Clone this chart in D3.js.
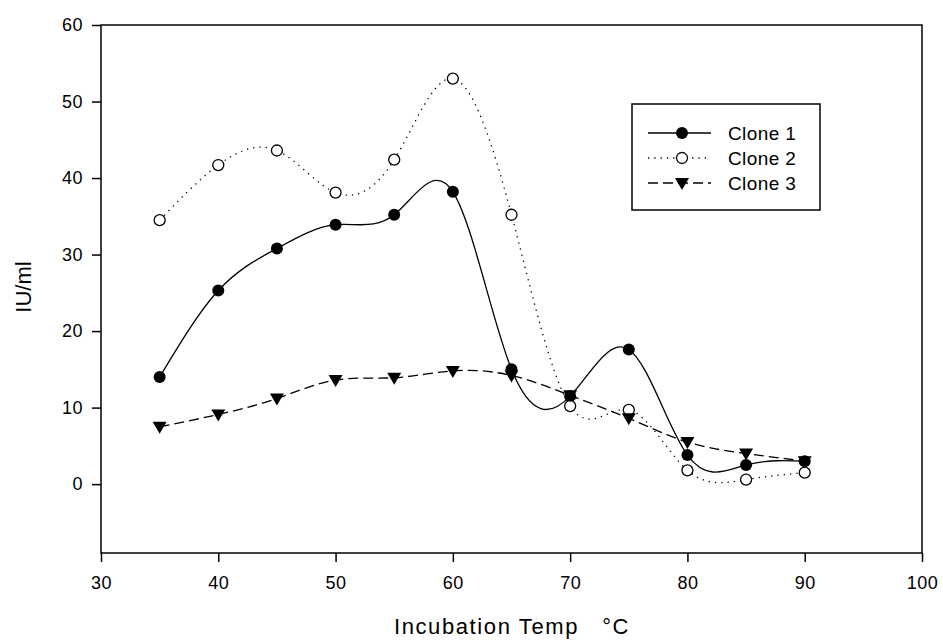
<!DOCTYPE html>
<html>
<head>
<meta charset="utf-8">
<script src="https://cdn.jsdelivr.net/npm/d3@7"></script>
<style>
  body { margin: 0; background: #fff; }
  text { font-family: Arial, "Liberation Sans", sans-serif; fill: #000; }
</style>
</head>
<body>
<svg class="chart" width="943" height="640"></svg>
<script>
// data
const temps = [35, 40, 45, 50, 55, 60, 65, 70, 75, 80, 85, 90];
const clone1 = [14.0, 25.3, 30.8, 33.9, 35.2, 38.2, 15.0, 11.5, 17.6, 3.8, 2.5, 3.0];
const clone2 = [34.5, 41.7, 43.6, 38.1, 42.4, 53.0, 35.2, 10.2, 9.7, 1.8, 0.6, 1.5];
const clone3 = [7.5, 9.1, 11.2, 13.6, 13.9, 14.8, 14.2, 11.6, 8.6, 5.5, 4.0, 3.0];
const seriesNames = ["Clone 1", "Clone 2", "Clone 3"];
const xTicks = [30, 40, 50, 60, 70, 80, 90, 100];
const yTicks = [0, 10, 20, 30, 40, 50, 60];

const plot = { left: 101, right: 922, top: 25, bottom: 553 };

const svg = d3.select(".chart");

const x = d3.scaleLinear().domain([30, 100]).range([plot.left, plot.right]);
const y = d3.scaleLinear().domain([-9, 60]).range([plot.bottom, plot.top]);

const styles = [
  { dash: null, marker: "dot" },
  { dash: "1.3,5", marker: "open" },
  { dash: "10,5", marker: "tri" }
];

// frame
svg.append("rect")
  .attr("x", plot.left).attr("y", plot.top)
  .attr("width", plot.right - plot.left).attr("height", plot.bottom - plot.top)
  .attr("fill", "none").attr("stroke", "#000").attr("stroke-width", 1.5);

// axes
const xAxis = svg.append("g")
  .attr("transform", `translate(0,${plot.bottom})`)
  .call(d3.axisBottom(x).tickValues(xTicks).tickSize(9).tickPadding(14));
const yAxis = svg.append("g")
  .attr("transform", `translate(${plot.left},0)`)
  .call(d3.axisLeft(y).tickValues(yTicks).tickSize(9).tickPadding(9));

[xAxis, yAxis].forEach(g => {
  g.attr("font-size", 18).attr("font-family", "Arial, 'Liberation Sans', sans-serif");
  g.select(".domain").remove();
  g.selectAll("line").attr("stroke", "#000").attr("stroke-width", 1.5);
  g.selectAll("text").style("letter-spacing", "0.5px");
});

svg.append("text")
  .attr("x", 512).attr("y", 634)
  .attr("text-anchor", "middle")
  .style("font-size", "22px")
  .style("letter-spacing", "1.6px")
  .style("white-space", "pre")
  .text("Incubation Temp   \u00B0C");

svg.append("text")
  .attr("transform", "translate(31,287) rotate(-90)")
  .attr("text-anchor", "middle")
  .style("font-size", "22px")
  .text("IU/ml");

const line = d3.line()
  .x(d => x(d[0]))
  .y(d => y(d[1]))
  .curve(d3.curveNatural);

function drawMarker(g, type, cx, cy) {
  if (type === "dot") {
    g.append("circle").attr("cx", cx).attr("cy", cy).attr("r", 6).attr("fill", "#000");
  } else if (type === "open") {
    g.append("circle").attr("cx", cx).attr("cy", cy).attr("r", 5.5)
      .attr("fill", "#fff").attr("stroke", "#000").attr("stroke-width", 1.3);
  } else {
    g.append("path")
      .attr("d", `M${cx - 7},${cy - 5}L${cx + 7},${cy - 5}L${cx},${cy + 7}Z`)
      .attr("fill", "#000");
  }
}

const allSeries = [clone1, clone2, clone3];

allSeries.forEach((vals, i) => {
  const pts = temps.map((t, j) => [t, vals[j]]);
  svg.append("path")
    .attr("d", line(pts))
    .attr("fill", "none")
    .attr("stroke", "#000")
    .attr("stroke-width", 1.3)
    .attr("stroke-dasharray", styles[i].dash);
});

allSeries.forEach((vals, i) => {
  const g = svg.append("g");
  temps.forEach((t, j) => drawMarker(g, styles[i].marker, x(t), y(vals[j])));
});

// legend
const legend = svg.append("g");
legend.append("rect")
  .attr("x", 632).attr("y", 104).attr("width", 188).attr("height", 106)
  .attr("fill", "#fff").attr("stroke", "#000").attr("stroke-width", 1.5);

seriesNames.forEach((name, i) => {
  const ly = 133 + i * 25;
  legend.append("line")
    .attr("x1", 648).attr("x2", 711).attr("y1", ly).attr("y2", ly)
    .attr("stroke", "#000").attr("stroke-width", 1.3)
    .attr("stroke-dasharray", styles[i].dash);
  drawMarker(legend, styles[i].marker, 682, ly);
  legend.append("text")
    .attr("x", 728).attr("y", ly + 6.5)
    .style("font-size", "19px")
    .style("letter-spacing", "0.4px")
    .text(name);
});
</script>
</body>
</html>
